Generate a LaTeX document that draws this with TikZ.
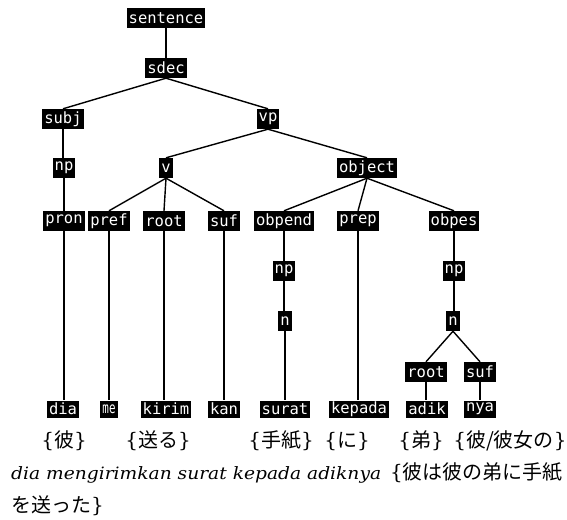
\documentclass[tikz,border=0pt]{standalone}
\usepackage{fontspec}
\usepackage{graphicx}
\newfontfamily\lblfam{DejaVu Sans Mono}
\newfontfamily\cjk{Noto Sans CJK JP}
\newfontfamily\serfam{DejaVu Serif}
\newcommand\lblfont{\lblfam\fontsize{15.5}{16}\selectfont}
\newcommand\glossfont{\fontsize{20}{22}\selectfont}
\newcommand\lbr{{\serfam\{}}
\newcommand\rbr{{\serfam\}}}
\tikzset{
  lbl/.style={fill=black, text=white, font=\lblfont, inner xsep=2pt, inner ysep=0pt, minimum height=20pt},
  leaf/.style={lbl, minimum height=17pt},
  br/.style={line width=1.4pt},
  gloss/.style={anchor=base, inner sep=0pt, font=\glossfont}
}
\begin{document}
\begin{tikzpicture}[x=1pt, y=-1pt]
\useasboundingbox (0,0) rectangle (567,519);
% tree nodes
\node[lbl] (sentence) at (166,18) {sentence};
\node[lbl] (sdec) at (166,68) {sdec};
\node[lbl] (subj) at (63,119) {subj};
\node[lbl] (vp) at (268,119) {vp};
\node[lbl] (np1) at (64,168) {np};
\node[lbl] (v) at (166,168) {v};
\node[lbl] (object) at (367,168) {object};
\node[lbl] (pron) at (64,221) {pron};
\node[lbl] (pref) at (109,221) {pref};
\node[lbl] (root) at (164,221) {root};
\node[lbl] (suf) at (224,221) {suf};
\node[lbl] (obpend) at (284,221) {obpend};
\node[lbl] (prep) at (358,221) {prep};
\node[lbl] (obpes) at (454,221) {obpes};
\node[lbl] (np2) at (284,271) {np};
\node[lbl] (np3) at (454,271) {np};
\node[lbl] (n1) at (285,321) {n};
\node[lbl] (n2) at (453,321) {n};
\node[lbl] (root2) at (426,372) {root};
\node[lbl] (suf2) at (480,372) {suf};
% leaves
\node[leaf] (dia) at (63,409) {dia};
\node[leaf] (me) at (109,409) {\scalebox{0.7}[1]{me}};
\node[leaf] (kirim) at (166,409) {kirim};
\node[leaf] (kan) at (224,409) {kan};
\node[leaf] (surat) at (285,409) {surat};
\node[leaf] (kepada) at (359,409) {kepada};
\node[leaf] (adik) at (427,409) {adik};
\node[leaf] (nya) at (480,409) {nya};
% branching edges
\draw[br] (sdec.south) -- (subj.north);
\draw[br] (sdec.south) -- (vp.north);
\draw[br] (vp.south) -- (v.north);
\draw[br] (vp.south) -- (object.north);
\draw[br] (v.south) -- (pref.north);
\draw[br] (v.south) -- (root.north);
\draw[br] (v.south) -- (suf.north);
\draw[br] (object.south) -- (obpend.north);
\draw[br] (object.south) -- (prep.north);
\draw[br] (object.south) -- (obpes.north);
\draw[br] (n2.south) -- (root2.north);
\draw[br] (n2.south) -- (suf2.north);
% vertical chains
\draw[br] (sentence.south) -- (sentence.south |- sdec.north);
\draw[br] (subj.south) -- (subj.south |- np1.north);
\draw[br] (np1.south) -- (np1.south |- pron.north);
\draw[br] (pron.south) -- (pron.south |- dia.north);
\draw[br] (pref.south) -- (pref.south |- me.north);
\draw[br] (root.south) -- (root.south |- kirim.north);
\draw[br] (suf.south) -- (suf.south |- kan.north);
\draw[br] (obpend.south) -- (obpend.south |- np2.north);
\draw[br] (np2.south) -- (np2.south |- n1.north);
\draw[br] (n1.south) -- (n1.south |- surat.north);
\draw[br] (prep.south) -- (prep.south |- kepada.north);
\draw[br] (obpes.south) -- (obpes.south |- np3.north);
\draw[br] (np3.south) -- (np3.south |- n2.north);
\draw[br] (root2.south) -- (root2.south |- adik.north);
\draw[br] (suf2.south) -- (suf2.south |- nya.north);
% glosses
\node[gloss] (g1) at (64,447) {\lbr{\cjk 彼}\rbr};
\node[gloss] (g2) at (158,447) {\lbr{\cjk 送る}\rbr};
\node[gloss] (g3) at (281,447) {\lbr{\cjk 手紙}\rbr};
\node[gloss] (g4) at (347,447) {\lbr{\cjk に}\rbr};
\node[gloss] (g5) at (421,447) {\lbr{\cjk 弟}\rbr};
\node[gloss] (g6) at (510,447) {\lbr{\cjk 彼/彼女の}\rbr};
% sentence lines
\node[anchor=base west, inner sep=0pt, font=\glossfont] (l2a) at (11,479) {\resizebox{370pt}{\height}{\serfam\fontsize{17}{20}\selectfont\itshape dia mengirimkan surat kepada adiknya}};
\node[anchor=base east, inner sep=0pt, font=\glossfont] (l2b) at (563,479) {\lbr{\cjk 彼は彼の弟に手紙}};
\node[anchor=base west, inner sep=0pt, font=\glossfont] (l3) at (11,512) {{\cjk を送った}\rbr};
\end{tikzpicture}
\end{document}
